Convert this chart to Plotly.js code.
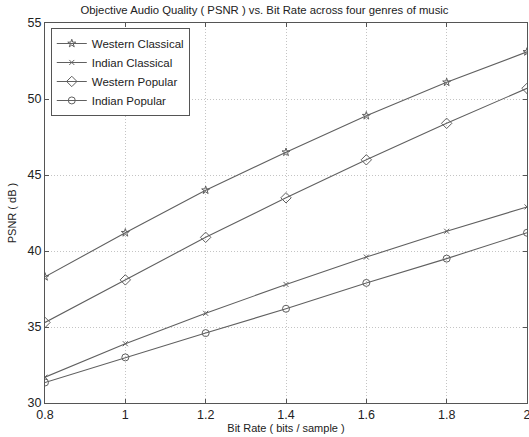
<!DOCTYPE html>
<html><head><meta charset="utf-8">
<script src="https://cdn.plot.ly/plotly-3.0.1.min.js"></script>
<style>html,body{margin:0;padding:0;background:#fff}#chart{width:529px;height:437px}</style>
</head><body><div id="chart"></div>
<script>
const bitRates = [0.8, 1.0, 1.2, 1.4, 1.6, 1.8, 2.0];
const westernClassical = [38.3, 41.2, 44.0, 46.5, 48.9, 51.1, 53.1];
const indianClassical = [31.7, 33.9, 35.9, 37.8, 39.6, 41.3, 42.9];
const westernPopular = [35.3, 38.1, 40.9, 43.5, 46.0, 48.4, 50.7];
const indianPopular = [31.35, 33.0, 34.6, 36.2, 37.9, 39.5, 41.2];
const seriesNames = ['Western Classical', 'Indian Classical', 'Western Popular', 'Indian Popular'];
const xTicks = [0.8, 1, 1.2, 1.4, 1.6, 1.8, 2];
const xTickLabels = ['0.8', '1', '1.2', '1.4', '1.6', '1.8', '2'];
const yTicks = [30, 35, 40, 45, 50, 55];

const lineColor = '#606060';
const symbols = ['star-open', 'x-thin-open', 'diamond-open', 'circle-open'];
const markerSizes = [6, 5, 8, 7];
const seriesValues = [westernClassical, indianClassical, westernPopular, indianPopular];

const traces = seriesValues.map((vals, i) => ({
  x: bitRates, y: vals, name: seriesNames[i], type: 'scatter', mode: 'lines+markers',
  line: {color: lineColor, width: 1.1},
  marker: {symbol: symbols[i], size: markerSizes[i], color: lineColor, line: {color: lineColor, width: 1}}
}));

const font = {family: 'Liberation Sans, Arial, sans-serif', color: '#222'};
const axisCommon = {ticks: 'inside', ticklen: 4, tickcolor: '#555', showline: true, linecolor: '#555',
  linewidth: 1, mirror: 'ticks', showgrid: true, gridcolor: '#c4c4c4', griddash: '1px,2px', gridwidth: 1,
  zeroline: false, tickfont: Object.assign({size: 12.5}, font), ticklabeloverflow: 'allow'};
const layout = {
  width: 529, height: 437,
  margin: {l: 45, r: 2, t: 23, b: 34},
  paper_bgcolor: '#fff', plot_bgcolor: '#fff',
  font: Object.assign({size: 11}, font),
  title: {text: 'Objective Audio Quality ( PSNR ) vs. Bit Rate across four genres of music',
    font: Object.assign({size: 11.3}, font), x: 0.5, xanchor: 'center', y: 1 - 10/437, yanchor: 'middle', yref: 'container'},
  xaxis: Object.assign({range: [0.8, 2], tickvals: xTicks, ticktext: xTickLabels,
    title: {text: 'Bit Rate ( bits / sample )', font: Object.assign({size: 11}, font), standoff: 3}}, axisCommon),
  yaxis: Object.assign({range: [30, 55], tickvals: yTicks,
    title: {text: 'PSNR ( dB )', font: Object.assign({size: 11}, font), standoff: 8}}, axisCommon),
  legend: {x: 0.012, y: 0.987, xanchor: 'left', yanchor: 'top', bgcolor: '#fff', itemwidth: 30,
    bordercolor: '#555', borderwidth: 1, font: Object.assign({size: 11.5}, font), tracegroupgap: 0},
  showlegend: true
};
Plotly.newPlot('chart', traces, layout, {displayModeBar: false, staticPlot: true});
</script></body></html>
